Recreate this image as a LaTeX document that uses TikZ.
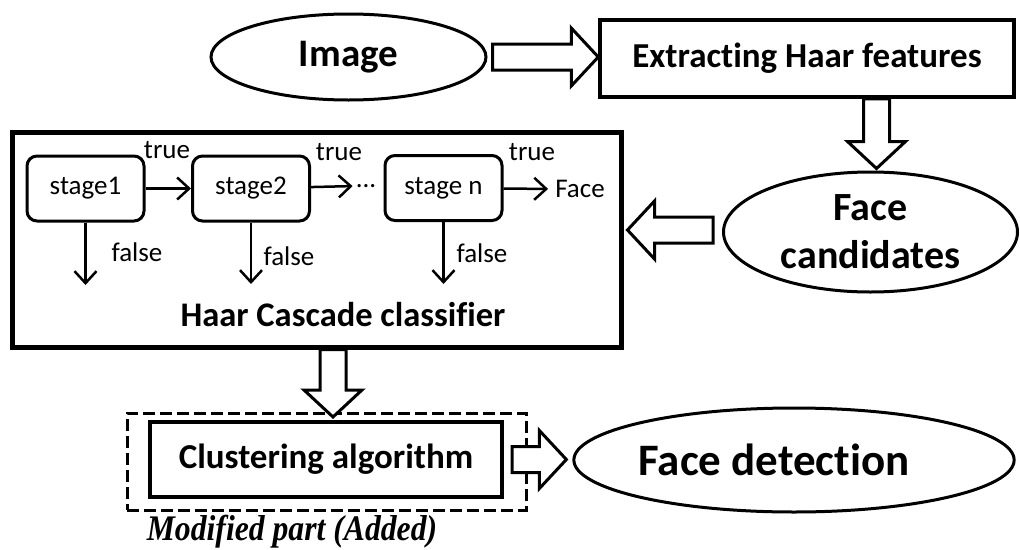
\documentclass[tikz,border=0pt]{standalone}
\usepackage{fontspec}
\setmainfont[Ligatures={NoCommon,NoContextual}]{Carlito}
\newfontfamily\capfont{Liberation Serif}
\usetikzlibrary{shapes.geometric,arrows.meta,calc}

% geometry of the hollow block arrows
\def\fashaft{13pt}
\def\fahalf{29pt}
\def\fahead{27pt}
\newcommand\hollowarrow[2]{%
  \coordinate (ha-b) at ($(#2)!\fahead!(#1)$);
  \draw[hollow] ($(#1)!\fashaft!90:(#2)$) -- ($(ha-b)!\fashaft!90:(#2)$)
    -- ($(ha-b)!\fahalf!90:(#2)$) -- (#2) -- ($(ha-b)!\fahalf!-90:(#2)$)
    -- ($(ha-b)!\fashaft!-90:(#2)$) -- ($(#1)!\fashaft!-90:(#2)$) -- cycle;}

\begin{document}
\begin{tikzpicture}[x=1pt,y=-1pt,
  oval/.style={ellipse, draw, line width=3pt, inner sep=0pt, align=center},
  block/.style={rectangle, draw, line width=3.5pt, inner sep=0pt},
  stagebox/.style={rectangle, draw, line width=3pt, rounded corners=10pt,
    minimum width=117pt, minimum height=65pt, inner sep=0pt,
    font=\fontsize{27}{30}\selectfont},
  small/.style={inner sep=0pt, font=\fontsize{27}{30}\selectfont},
  big/.style={font=\bfseries\fontsize{#1}{#1}\selectfont},
  hollow/.style={draw, fill=white, line width=3pt, line join=miter},
  thinarrow/.style={line width=2.5pt, -{Straight Barb[length=12pt,width=22pt]}},
]
\useasboundingbox (0,0) rectangle (1020,549);

% top row
\node[oval, minimum width=275pt, minimum height=86pt, big=39] (img) at (348.5,57) {Image};
\node[block, minimum width=414pt, minimum height=77pt, big=35] (ext) at (807,58.5) {Extracting Haar features};
\node[oval, minimum width=294pt, minimum height=120pt,
      font=\bfseries\fontsize{40}{48}\selectfont] (cand) at (870.5,232) {Face\\candidates};

% cascade classifier
\node[block, line width=5pt, minimum width=609pt, minimum height=215pt] (big) at (316.5,239.5) {};
\node[stagebox] (s1) at (85.5,188.5) {stage1};
\node[stagebox] (s2) at (251,188.5) {stage2};
\node[stagebox] (sn) at (443.5,188) {stage n};
\node[small] (dots) at (366,186) {...};
\node[small] (face) at (580,189) {Face};
\node[small] at (167,150) {true};
\node[small] at (339,152) {true};
\node[small] at (532,152) {true};
\node[small] at (137,252) {false};
\node[small] at (289,256) {false};
\node[small] at (482,253) {false};
\node[big=34.5] (haar) at (343,315) {Haar Cascade classifier};

\coordinate (f1) at (s1.south |- 0,285);
\coordinate (f2) at (s2.south |- 0,284);
\coordinate (fn) at (sn.south |- 0,284);
\draw[thinarrow] (s1) -- (s2);
\draw[thinarrow, shorten >=3pt] (s2) -- (dots.west);
\draw[thinarrow, shorten >=7pt] (sn) -- (face.west);
\draw[thinarrow] (s1.south) -- (f1);
\draw[thinarrow] (s2.south) -- (f2);
\draw[thinarrow] (sn.south) -- (fn);

% bottom row
\node[rectangle, draw, dashed, dash pattern=on 12pt off 5pt, line width=3pt,
      minimum width=399pt, minimum height=97pt] (mod) at (326.5,461.5) {};
\node[block, line width=4pt, minimum width=352pt, minimum height=75pt, big=35] (clus) at (326,459.5) {Clustering algorithm};
\node[oval, minimum width=406pt, minimum height=104pt, big=45] (det) at (794,460) {Face detection\hspace*{40pt}};
\node[font=\capfont\bfseries\itshape\fontsize{36}{38}\selectfont, inner sep=0pt] (cap) at (292,532) {\scalebox{0.88}[1]{Modified part (Added)}};

% block arrows between the stages of the pipeline
\coordinate (a1s) at ($(img.east)+(5,0)$);
\coordinate (a1t) at (ext.west |- img.east);
\hollowarrow{a1s}{a1t}
\coordinate (a2t) at ($(cand.north)+(6,-2)$);
\coordinate (a2s) at (a2t |- ext.south);
\hollowarrow{a2s}{a2t}
\coordinate (a3s) at ($(cand.west)+(-9,-2)$);
\coordinate (a3t) at ($(big.east |- a3s)+(4,0)$);
\hollowarrow{a3s}{a3t}
\coordinate (a4s) at ($(big.south)+(16.5,0)$);
\coordinate (a4t) at ($(a4s |- clus.north)+(0,-3)$);
\hollowarrow{a4s}{a4t}
\coordinate (a5s) at ($(clus.east)+(8,0)$);
\coordinate (a5t) at ($(det.west |- a5s)+(-6,0)$);
\hollowarrow{a5s}{a5t}
\end{tikzpicture}
\end{document}
